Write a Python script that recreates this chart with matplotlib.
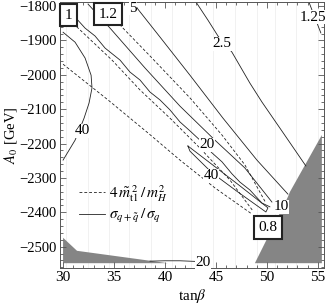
import numpy as np
import matplotlib
matplotlib.use("Agg")
import matplotlib.pyplot as plt
from matplotlib.ticker import MultipleLocator, FuncFormatter
from matplotlib.lines import Line2D

plt.rcParams['font.family'] = ['Liberation Serif', 'DejaVu Serif']
plt.rcParams['mathtext.fontset'] = 'stix'

# contour lines (tan beta, A0 in GeV)
# dashed: 4 m_t1^2 / m_H^2
d08_x = [30.0, 34.41, 38.33, 41.47, 44.90, 48.53]
d08_y = [-1969, -2073, -2169, -2248, -2329, -2405]
d10_x = [30.0, 31.37, 34.80, 37.55, 40.49, 43.43, 46.37, 48.63]
d10_y = [-1820, -1861, -1957, -2044, -2126, -2213, -2306, -2396]
d12_x = [33.63, 35.88, 38.53, 42.45, 45.59, 47.84, 49.90]
d12_y = [-1791, -1864, -1945, -2067, -2175, -2262, -2373]

# solid: sigma_{q+sq} / sigma_q
s20_x = [30.0, 31.18, 32.16, 33.14, 34.12, 35.59, 36.57, 37.55, 38.53, 39.51, 40.49,
         41.47, 42.45, 43.43, 44.61, 45.59, 46.57, 47.35, 48.33, 49.51, 50.29]
s20_y = [-1797, -1832, -1864, -1887, -1922, -1957, -1992, -2015, -2050, -2073, -2102,
         -2137, -2163, -2190, -2227, -2253, -2288, -2312, -2335, -2373, -2384]
s10_x = [32.45, 34.61, 38.04, 41.47, 44.90, 47.84, 50.49]
s10_y = [-1794, -1864, -1980, -2091, -2190, -2271, -2370]
s5_x = [36.96, 37.35, 39.51, 42.45, 45.69, 49.02, 52.06]
s5_y = [-1791, -1809, -1890, -2001, -2126, -2248, -2347]
s25_x = [43.04, 44.22, 45.20, 46.57, 48.33, 49.51, 51.67, 53.82]
s25_y = [-1788, -1841, -1887, -1934, -2024, -2079, -2172, -2265]
s125_x = [54.12, 54.61, 55.29]
s125_y = [-1788, -1826, -1878]
s40a_x = [30.0, 31.18, 32.16, 32.75, 32.84, 32.55, 32.06, 31.67, 31.18, 30.49, 30.0]
s40a_y = [-1876, -1905, -1951, -2001, -2038, -2082, -2126, -2155, -2190, -2224, -2248]
s40b_x = [42.25, 44.41, 47.35, 50.10, 49.90, 47.16, 44.61, 42.45, 42.25]
s40b_y = [-2207, -2256, -2323, -2387, -2399, -2341, -2285, -2222, -2207]
s20b_x = [38.53, 40.0, 41.47, 43.14]
s20b_y = [-2542, -2541, -2541, -2543]

# excluded regions
gl_x = [30.0, 31.37, 40.29, 30.0]
gl_y = [-2474, -2512, -2548, -2548]
gr_x = [48.82, 52.06, 52.25, 55.39, 55.39]
gr_y = [-2548, -2355, -2341, -2175, -2548]

# contour labels
lab_txt = ['5', '2.5', '1.25', '10', '20', '40', '40', '20']
lab_x = [36.86, 45.59, 54.51, 51.40, 44.12, 44.51, 31.86, 43.73]
lab_y = [-1806, -1910, -1832, -2384, -2204, -2294, -2163, -2547]
box_txt = ['1', '1.2', '0.8']
box_x = [30.55, 34.41, 50.10]
box_y = [-1826, -1823, -2445]

# faint rendering seams
seam_x = [30.3, 32.4, 34.5, 36.5, 38.6, 40.7, 42.6, 44.7, 46.9, 49.0, 50.8, 52.9, 55.0]

fig = plt.figure(figsize=(3.27, 3.06), dpi=100)
ax = fig.add_axes([60/327, 1 - 268/306, 264/327, 266/306])

for sx in seam_x:
    ax.axvline(sx, color='#efefef', lw=0.6, zorder=0)

ax.fill(gl_x, gl_y, color='#858585', lw=0, zorder=1)
ax.fill(gr_x, gr_y, color='#858585', lw=0, zorder=1)

lc = '#222222'
dash = (0, (3.4, 2.4))
for xs, ys in [(d08_x, d08_y), (d10_x, d10_y), (d12_x, d12_y)]:
    ax.plot(xs, ys, color=lc, lw=0.6, ls=dash, zorder=2)
for xs, ys in [(s20_x, s20_y), (s10_x, s10_y), (s5_x, s5_y), (s25_x, s25_y),
               (s125_x, s125_y), (s40a_x, s40a_y), (s40b_x, s40b_y), (s20b_x, s20b_y)]:
    ax.plot(xs, ys, color=lc, lw=0.6, zorder=2)

for t, x, y in zip(lab_txt, lab_x, lab_y):
    ax.text(x, y, t, fontsize=11, ha='center', va='center', zorder=4,
            bbox=dict(facecolor='white', edgecolor='none', pad=0.3))
for t, x, y in zip(box_txt, box_x, box_y):
    ax.text(x, y, t, fontsize=11, ha='center', va='center', zorder=5,
            bbox=dict(boxstyle='square,pad=0.32', facecolor='white',
                      edgecolor='#222222', lw=1.5))

ax.set_xlim(29.7, 55.6)
ax.set_ylim(-2562, -1788)

ax.xaxis.set_major_locator(MultipleLocator(5))
ax.xaxis.set_minor_locator(MultipleLocator(1))
ax.yaxis.set_major_locator(MultipleLocator(100))
ax.yaxis.set_minor_locator(MultipleLocator(20))
ax.yaxis.set_major_formatter(FuncFormatter(
    lambda v, p: ('\u2212%d' % abs(v)) if v < 0 else '%d' % v))
ax.tick_params(which='both', direction='in', top=True, right=True,
               color='#555555', width=0.6, labelsize=11)
ax.tick_params(axis='y', labelsize=10.5)
ax.tick_params(which='major', length=4.5, pad=2.5)
ax.tick_params(which='minor', length=2.5)
for s in ax.spines.values():
    s.set_color('#555555')
    s.set_linewidth(0.7)

ax.set_xlabel(r'tan$\beta$', fontsize=11, labelpad=2)
ax.set_ylabel(r'$A_0$ [GeV]', fontsize=10.5)
ax.yaxis.set_label_coords(-0.157, 0.5)

handles = [Line2D([], [], color=lc, lw=0.6, ls=dash),
           Line2D([], [], color=lc, lw=0.6)]
labels = [r'$4\,\tilde{m}^{\,2}_{\mathrm{t1}}\,/\,m^2_H$',
          r'$\sigma_{q+\tilde{q}}\,/\,\sigma_q$']
ax.legend(handles, labels, loc='lower left', bbox_to_anchor=(0.03, 0.12),
          frameon=False, fontsize=11, handlelength=1.7, handletextpad=0.3,
          labelspacing=0.25, borderpad=0.2)

fig.savefig('out.png', dpi=100)
